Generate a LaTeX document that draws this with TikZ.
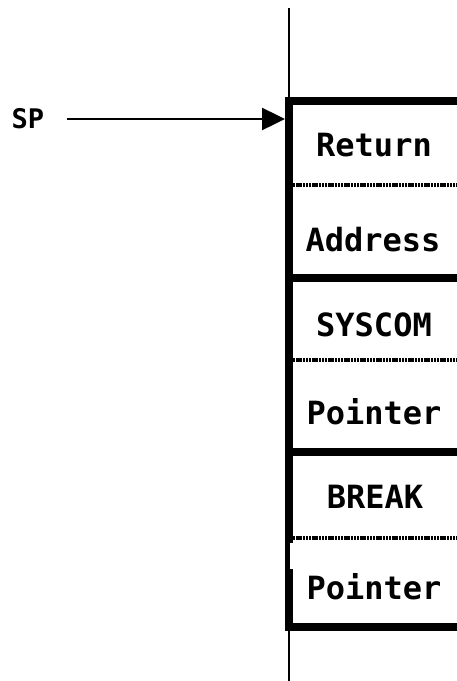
\documentclass[tikz,border=0pt]{standalone}
\usepackage{fontspec}
\setmonofont{DejaVu Sans Mono}
\usetikzlibrary{arrows.meta}
\begin{document}
\begin{tikzpicture}[x=1pt,y=-1pt,
  cell/.style={font=\fontsize{32}{36}\selectfont\ttfamily\bfseries, inner sep=0pt, anchor=center},
  lbl/.style={font=\fontsize{27}{30}\selectfont\ttfamily\bfseries, inner sep=0pt},
  thick border/.style={line width=8pt},
  thin rule/.style={line width=2.2pt},
  divider/.style={line width=3.5pt, dash pattern=on 2.4pt off 0.8pt}]
\useasboundingbox (0,0) rectangle (457,681);
% axis line
\coordinate (axtop) at (289,8);
\coordinate (axbot) at (289,681);
\draw[thin rule] (axtop) -- (axbot);
% thick horizontal rules
\foreach \y in {101,278,452,627} \draw[thick border] (285,\y) -- (470,\y);
% left border
\draw[thick border] (289,97) -- (289,543);
\draw[thick border] (289,569) -- (289,631);
\draw[line width=5pt] (287,540) -- (287,572);
% dividers
\foreach \y in {185,360,538} \draw[divider] (293,\y) -- (470,\y);
% cells
\node[cell] (ret) at (374,145) {Return};
\node[cell] (addr) at (373,240) {Address};
\node[cell] (sys) at (374,325) {SYSCOM};
\node[cell] (ptr1) at (374,412) {Pointer};
\node[cell] (brk) at (375,497) {BREAK};
\node[cell] (ptr2) at (374,587) {Pointer};
% SP pointer
\node[lbl] (sp) at (28,119) {SP};
\coordinate (sptarget) at (285,119);
\draw[line width=2.5pt, -{Triangle[length=23pt,width=22pt]}] (67,119) -- (sptarget);
\end{tikzpicture}
\end{document}
